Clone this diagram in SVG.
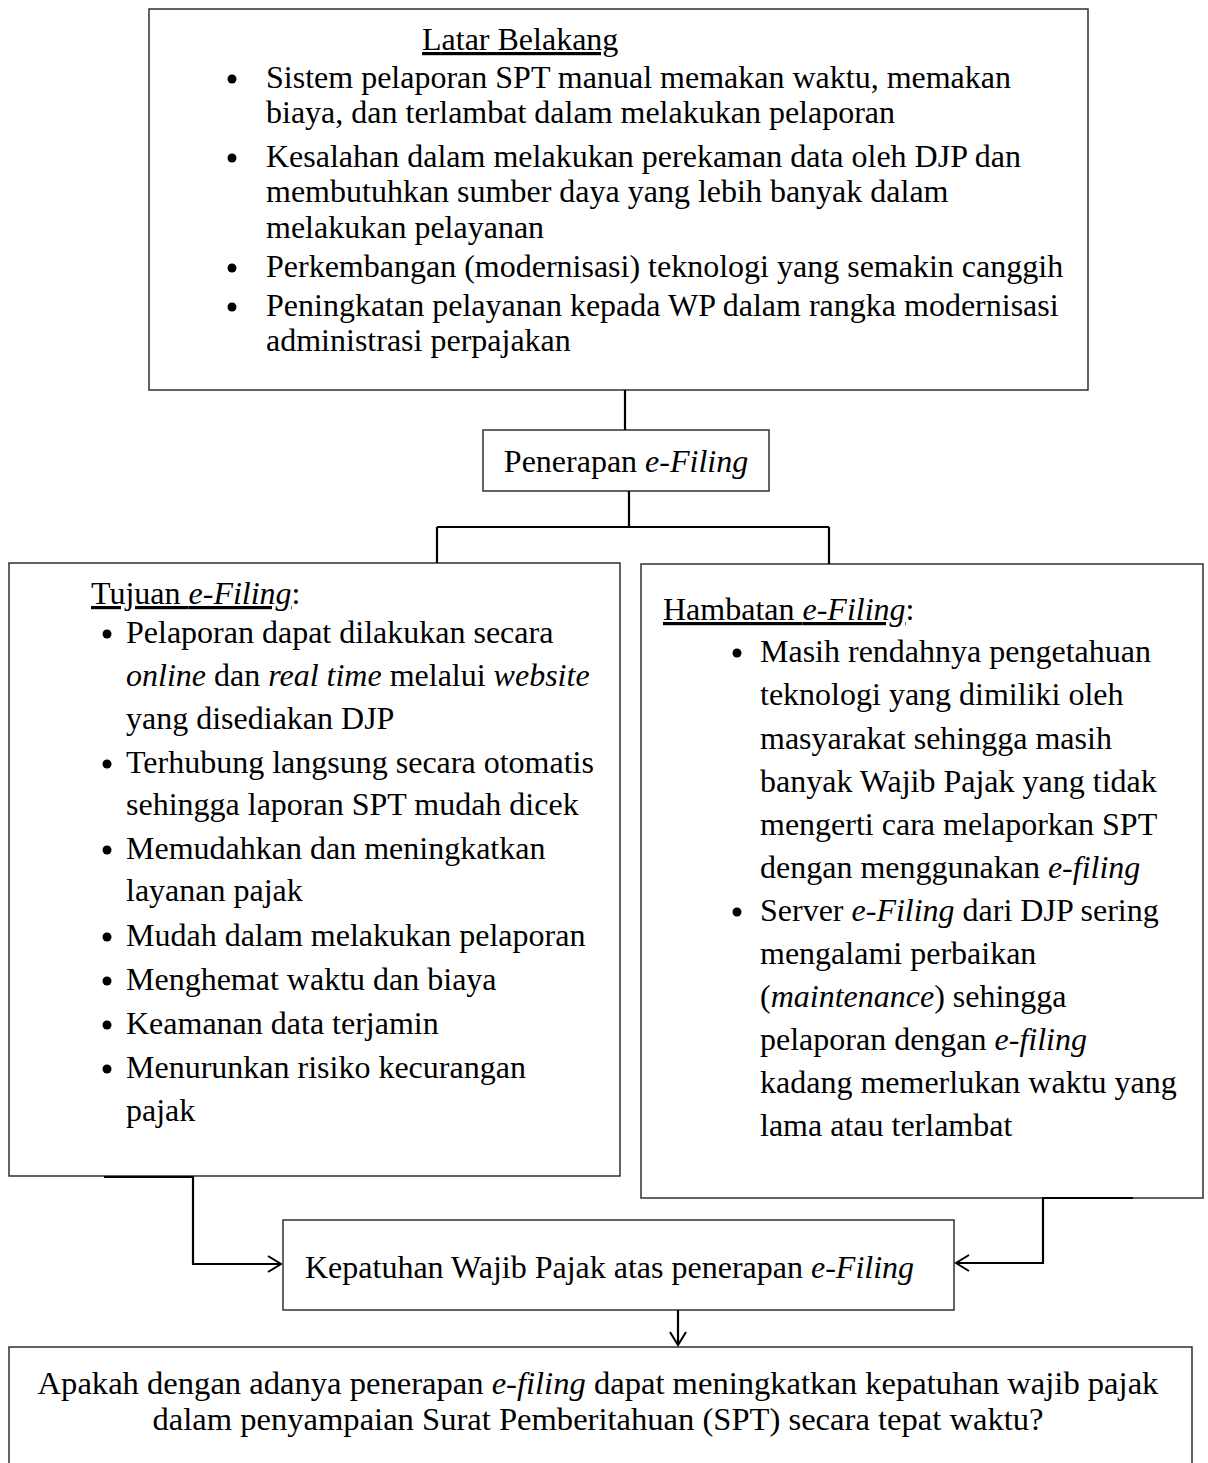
<svg xmlns="http://www.w3.org/2000/svg" width="1208" height="1463" viewBox="0 0 1208 1463">
<defs>
<style>
text{font-family:"Liberation Serif","Times New Roman",serif;font-size:32px;fill:#000}
.i{font-style:italic}
.u{text-decoration:underline}
.box{fill:#fff;stroke:#222;stroke-width:1.4}
.con{fill:none;stroke:#000;stroke-width:2.2}
.dot{fill:#000}
.q{font-size:32.6px}
</style>
<marker id="arr" markerUnits="userSpaceOnUse" markerWidth="16" markerHeight="20" refX="14" refY="9" orient="auto">
<path d="M1,1 L14,9 L1,17" fill="none" stroke="#000" stroke-width="2"/>
</marker>
</defs>
<rect width="1208" height="1463" fill="#fff"/>

<g id="latar">
<rect class="box" x="149" y="9" width="939" height="381"/>
<text x="422" y="50" class="u">Latar Belakang</text>
<circle class="dot" cx="232" cy="79" r="4.5"/>
<text x="266" y="88">Sistem pelaporan SPT manual memakan waktu, memakan</text>
<text x="266" y="123">biaya, dan terlambat dalam melakukan pelaporan</text>
<circle class="dot" cx="232" cy="158" r="4.5"/>
<text x="266" y="167">Kesalahan dalam melakukan perekaman data oleh DJP dan</text>
<text x="266" y="202">membutuhkan sumber daya yang lebih banyak dalam</text>
<text x="266" y="238">melakukan pelayanan</text>
<circle class="dot" cx="232" cy="268" r="4.5"/>
<text x="266" y="277">Perkembangan (modernisasi) teknologi yang semakin canggih</text>
<circle class="dot" cx="232" cy="307" r="4.5"/>
<text x="266" y="316">Peningkatan pelayanan kepada WP dalam rangka modernisasi</text>
<text x="266" y="351">administrasi perpajakan</text>
</g>

<g id="penerapan">
<rect class="box" x="483" y="430" width="286" height="61"/>
<text x="626" y="472" text-anchor="middle">Penerapan <tspan class="i">e-Filing</tspan></text>
</g>

<g id="tujuan">
<rect class="box" x="9" y="563" width="611" height="613"/>
<text x="91" y="604"><tspan class="u">Tujuan <tspan class="i">e-Filing</tspan></tspan>:</text>
<circle class="dot" cx="107" cy="634" r="4.5"/>
<text x="126" y="643">Pelaporan dapat dilakukan secara</text>
<text x="126" y="686"><tspan class="i">online</tspan> dan <tspan class="i">real time</tspan> melalui <tspan class="i">website</tspan></text>
<text x="126" y="729">yang disediakan DJP</text>
<circle class="dot" cx="107" cy="764" r="4.5"/>
<text x="126" y="773">Terhubung langsung secara otomatis</text>
<text x="126" y="815">sehingga laporan SPT mudah dicek</text>
<circle class="dot" cx="107" cy="850" r="4.5"/>
<text x="126" y="859">Memudahkan dan meningkatkan</text>
<text x="126" y="901">layanan pajak</text>
<circle class="dot" cx="107" cy="937" r="4.5"/>
<text x="126" y="946">Mudah dalam melakukan pelaporan</text>
<circle class="dot" cx="107" cy="981" r="4.5"/>
<text x="126" y="990">Menghemat waktu dan biaya</text>
<circle class="dot" cx="107" cy="1025" r="4.5"/>
<text x="126" y="1034">Keamanan data terjamin</text>
<circle class="dot" cx="107" cy="1069" r="4.5"/>
<text x="126" y="1078">Menurunkan risiko kecurangan</text>
<text x="126" y="1121">pajak</text>
</g>

<g id="hambatan">
<rect class="box" x="641" y="564" width="562" height="634"/>
<text x="663" y="620"><tspan class="u">Hambatan <tspan class="i">e-Filing</tspan></tspan>:</text>
<circle class="dot" cx="737" cy="653" r="4.5"/>
<text x="760" y="662">Masih rendahnya pengetahuan</text>
<text x="760" y="705">teknologi yang dimiliki oleh</text>
<text x="760" y="749">masyarakat sehingga masih</text>
<text x="760" y="792">banyak Wajib Pajak yang tidak</text>
<text x="760" y="835">mengerti cara melaporkan SPT</text>
<text x="760" y="878">dengan menggunakan <tspan class="i">e-filing</tspan></text>
<circle class="dot" cx="737" cy="912" r="4.5"/>
<text x="760" y="921">Server <tspan class="i">e-Filing</tspan> dari DJP sering</text>
<text x="760" y="964">mengalami perbaikan</text>
<text x="760" y="1007">(<tspan class="i">maintenance</tspan>) sehingga</text>
<text x="760" y="1050">pelaporan dengan <tspan class="i">e-filing</tspan></text>
<text x="760" y="1093">kadang memerlukan waktu yang</text>
<text x="760" y="1136">lama atau terlambat</text>
</g>

<g id="kepatuhan">
<rect class="box" x="283" y="1220" width="671" height="90"/>
<text x="305" y="1278">Kepatuhan Wajib Pajak atas penerapan <tspan class="i">e-Filing</tspan></text>
</g>

<g id="pertanyaan">
<rect class="box" x="9" y="1347" width="1183" height="130"/>
<text class="q" x="598" y="1394" text-anchor="middle">Apakah dengan adanya penerapan <tspan class="i">e-filing</tspan> dapat meningkatkan kepatuhan wajib pajak</text>
<text class="q" x="598" y="1430" text-anchor="middle">dalam penyampaian Surat Pemberitahuan (SPT) secara tepat waktu?</text>
</g>

<g id="connectors">
<path class="con" d="M625,390 V430"/>
<path class="con" d="M629,491 V527 M437,527 H829 M437,527 V563 M829,527 V564"/>
<path class="con" d="M104,1177 H193 V1264 H281" marker-end="url(#arr)"/>
<path class="con" d="M1133,1198 H1043 V1263 H956" marker-end="url(#arr)"/>
<path class="con" d="M678,1310 V1345" marker-end="url(#arr)"/>
</g>
</svg>
